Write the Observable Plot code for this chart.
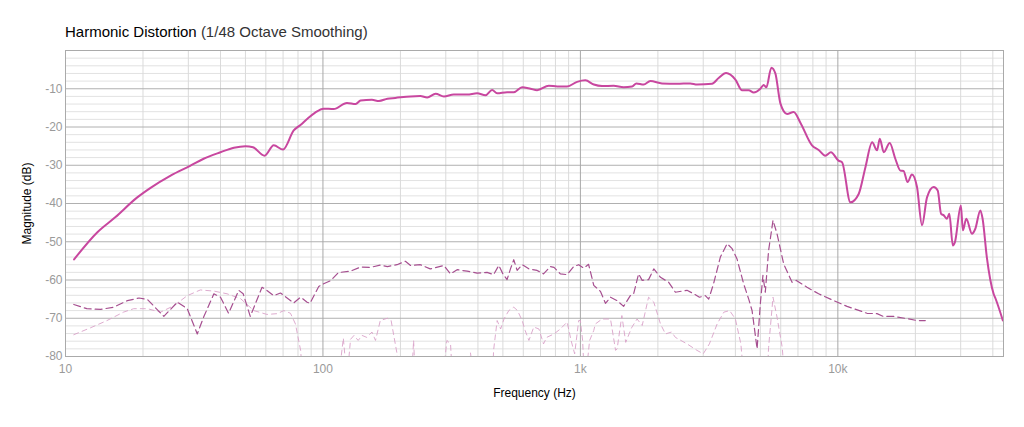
<!DOCTYPE html>
<html><head><meta charset="utf-8">
<script src="https://cdn.jsdelivr.net/npm/d3@7"></script>
<script src="https://cdn.jsdelivr.net/npm/@observablehq/plot@0.6"></script>
<style>
body{margin:0;background:#fff;font-family:"Liberation Sans",Arial,Helvetica,sans-serif;}
#title{height:40px;position:relative;}
#title .t{position:absolute;left:65px;top:23px;font-size:15px;color:#000;white-space:nowrap;}
#title .s{color:#333;}
g[aria-label="x-axis tick label"], g[aria-label="y-axis tick label"]{fill:#9a9a9a;}
g[aria-label="x-axis label"], g[aria-label="y-axis label"]{fill:#000;}
</style></head><body>
<div id="title"><span class="t">Harmonic Distortion <span class="s">(1/48 Octave Smoothing)</span></span></div>
<div id="chart"></div>
<script>
// Tick labels and grid
const xTicks = [10, 100, 1000, 10000];
const xLabels = ["10", "100", "1k", "10k"];
const yTicks = [-80, -70, -60, -50, -40, -30, -20, -10];
const xMajor = [100, 1000, 10000];
const xMinor = [20,30,40,50,60,70,80,90,200,300,400,500,600,700,800,900,2000,3000,4000,5000,6000,7000,8000,9000,20000,30000,40000];
const yMajor = [-70,-60,-50,-40,-30,-20,-10];
const yMinor = [-78,-76,-74,-72,-68,-66,-64,-62,-58,-56,-54,-52,-48,-46,-44,-42,-38,-36,-34,-32,-28,-26,-24,-22,-18,-16,-14,-12,-8,-6,-4,-2];

// Solid series
const solidFreq = [10.8,13.3,15.6,19.0,21.4,25.6,30.6,34.4,40.0,45.1,50.0,53.5,59.3,64.4,70.0,77.0,82,86.8,93,100.6,110,124,134,140,155,165,178,191,219,239,254,274,295,322,363,397,428,454,475,519,551,594,640,679,754,813,888,971,1045,1127,1214,1346,1472,1587,1650,1761,1870,2075,2372,2673,2838,3246,3444,3680,4000,4246,4506,4711,5000,5152,5276,5518,5718,5985,6350,6735,7145,7935,8420,8937,9400,10060,10380,11190,12050,12800,13590,14200,14550,15080,15900,16720,17500,18000,18660,19400,20300,21230,22200,23560,24430,25180,25800,26530,27100,27970,28500,30050,30600,31540,33190,34200,35770,36500,37900,40270,41000,43750];
const solidDb = [-54.6,-47.5,-43.6,-38.4,-35.9,-32.7,-30.1,-28.3,-26.6,-25.4,-25.0,-25.3,-27.5,-24.8,-25.9,-20.9,-19.4,-17.9,-16.3,-15.2,-15.3,-13.7,-14.0,-13.1,-12.9,-13.2,-12.6,-12.4,-12.0,-11.9,-12.3,-11.3,-12.0,-11.5,-11.5,-11.2,-11.7,-10.3,-11.2,-10.9,-10.9,-9.6,-10.0,-10.4,-9.2,-9.4,-9.4,-8.2,-7.8,-8.9,-9.3,-9.2,-9.6,-9.4,-8.6,-8.9,-8.0,-8.6,-8.7,-8.6,-8.9,-8.7,-7.2,-5.9,-7.6,-10.4,-10.4,-11.0,-10.0,-9.0,-9.6,-4.5,-6.0,-13.9,-16.6,-16.1,-18.8,-24.8,-26.0,-27.5,-26.6,-28.8,-29.2,-39.7,-37.5,-30.5,-24.0,-26.1,-23.1,-26.6,-24.2,-28.3,-31.4,-31.5,-34.4,-32.4,-35.7,-45.7,-38.4,-35.7,-36.6,-42.7,-43.1,-44.0,-42.7,-51.0,-50.1,-40.5,-47.0,-44.0,-47.9,-46.6,-41.8,-44.0,-54.0,-63.6,-64.9,-70.6];

// Medium dashed series
const dashFreq = [10.77,12.1,13.7,15.4,17.4,19.3,20.8,24.1,27.2,29.7,32.5,34.4,37.7,40,43.0,47.1,49,52.2,58.0,60.5,64.4,68.4,77,81.9,86.8,89,96.3,100.6,107,115,117,128,140,153,167,178,194,209,219,239,261,295,313,332,363,397,434,460,482,500,519,535,551,568,594,631,679,719,764,790,836,888,942,985,1030,1076,1127,1197,1251,1309,1389,1472,1563,1610,1683,1738,1840,1928,2047,2203,2339,2483,2595,2754,2900,3056,3150,3290,3497,3715,3885,4059,4306,4506,4644,4857,5000,5117,5227,5383,5600,5804,6160,6640,6900,7590,8420,9640,10860,12980,14200,15000,16450,18540,20300,21860];
const dashDb = [-66.4,-67.5,-67.7,-67.1,-65.4,-64.7,-65.1,-69.5,-65.8,-67.5,-74.1,-69.7,-63.6,-64.5,-68.7,-62.7,-63.6,-69.5,-61.9,-62.7,-64.1,-63.4,-66.0,-64.5,-65.8,-66.1,-61.7,-61.0,-60.2,-58.0,-58.0,-57.7,-56.6,-56.7,-56.1,-56.5,-56.0,-55.1,-56.2,-56.0,-57.1,-56.2,-58.4,-57.3,-57.7,-58.2,-58.0,-58.6,-56.2,-58.4,-59.9,-57.1,-54.7,-57.5,-56.0,-57.1,-57.5,-58.4,-56.5,-56.7,-58.4,-58.6,-56.5,-56.0,-56.9,-55.9,-61.4,-63.0,-66.1,-64.5,-65.4,-66.9,-64.1,-63.6,-58.4,-60.1,-59.9,-57.1,-59.3,-60.6,-63.2,-62.9,-62.7,-63.6,-64.5,-64.1,-65.0,-61.0,-54.0,-50.5,-51.8,-54.5,-61.0,-65.0,-68.0,-78.0,-66.2,-58.8,-63.2,-52.3,-44.4,-47.9,-55.8,-60.6,-60.1,-61.9,-63.6,-65.4,-66.9,-68.7,-68.8,-69.5,-69.5,-70.1,-70.6,-70.6];

// Light dashed series
const lightFreq = [10.77,12.5,14.5,16.8,18.4,20.8,23.4,26.4,29.7,33.4,37.7,42.4,47.9,53.9,60.6,66.4,70.5,74.8,78.2,81.9,84,114,120,124,128,132,137,142,148,155,160,167,178,184,194,198,220,225,229,290,303,313,320,360,374,390,455,460,475,490,505,527,551,570,594,610,631,659,690,719,740,790,836,888,920,950,985,1000,1020,1040,1086,1127,1143,1214,1309,1370,1389,1449,1500,1580,1660,1738,1840,1928,2047,2140,2260,2339,2595,2838,3000,3170,3397,3608,3800,4000,4200,4350,5300,5383,5600,5804,6080,6250];
const lightDb = [-74.3,-72.5,-70.6,-68.4,-67.5,-67.5,-68.4,-66.7,-64.1,-62.6,-62.9,-63.6,-64.9,-68.0,-69.0,-68.8,-68.0,-68.7,-71.5,-78.4,-88,-88,-75.2,-86,-75.5,-74.5,-75.8,-74.5,-75,-73.6,-75.8,-70.6,-70.0,-70.6,-79.3,-88,-88,-75.8,-88,-88,-75.8,-76.7,-88,-88,-79,-88,-88,-78.4,-70.6,-72.8,-70.2,-68.0,-67.1,-68.0,-70.6,-73.2,-75.8,-72.3,-72.8,-76.7,-75,-74.1,-72.8,-71.0,-75.8,-79.3,-70.6,-70.6,-75.8,-88,-75.8,-73.2,-71.5,-70.2,-70.2,-78.4,-78.0,-69.3,-76.3,-72.5,-70.2,-71.9,-64.5,-65.8,-71.5,-74.1,-73.6,-75,-76.7,-78.4,-79.3,-76.7,-71.5,-68.4,-68.0,-70.2,-76.7,-88,-88,-77.6,-64.5,-69.7,-77.6,-88];

const toRows = (fs, ds) => fs.map((f, i) => ({f, db: ds[i]}));
const solid = toRows(solidFreq, solidDb);
const dashed = toRows(dashFreq, dashDb);
const light = toRows(lightFreq, lightDb);

const chart = Plot.plot({
  width: 1024,
  height: 387,
  marginLeft: 65,
  marginRight: 21,
  marginTop: 10,
  marginBottom: 71,
  style: {fontFamily: "'Liberation Sans', Arial, Helvetica, sans-serif", fontSize: "12px", background: "#fff", color: "#000"},
  x: {type: "log", domain: [10, 44000]},
  y: {domain: [-80, 0]},
  marks: [
    Plot.ruleY(yMinor, {stroke: "#e2e2e2", strokeWidth: 1}),
    Plot.ruleX(xMinor, {stroke: "#dadada", strokeWidth: 1}),
    Plot.ruleY(yMajor, {stroke: "#b0b0b0", strokeWidth: 1}),
    Plot.ruleX(xMajor, {stroke: "#a8a8a8", strokeWidth: 1}),
    Plot.frame({stroke: "#aaaaaa"}),
    Plot.line(light, {x: "f", y: "db", stroke: "#d9a2c8", strokeWidth: 0.9, strokeDasharray: "5,4", clip: true}),
    Plot.line(dashed, {x: "f", y: "db", stroke: "#a64f90", strokeWidth: 1.2, strokeDasharray: "7,4", clip: true}),
    Plot.line(solid, {x: "f", y: "db", stroke: "#c8479f", strokeWidth: 2, curve: "monotone-x", clip: true}),
    Plot.axisX(xTicks, {tickFormat: d => xLabels[xTicks.indexOf(d)], tickSize: 0, tickPadding: 8, label: "Frequency (Hz)", labelAnchor: "center", labelArrow: "none", labelOffset: 40, fontSize: 12}),
    Plot.axisY(yTicks, {tickFormat: d => String(d), tickSize: 0, tickPadding: 3, label: "Magnitude (dB)", labelAnchor: "center", labelArrow: "none", labelOffset: 43, fontSize: 12})
  ]
});
document.getElementById("chart").appendChild(chart);
</script>
</body></html>
